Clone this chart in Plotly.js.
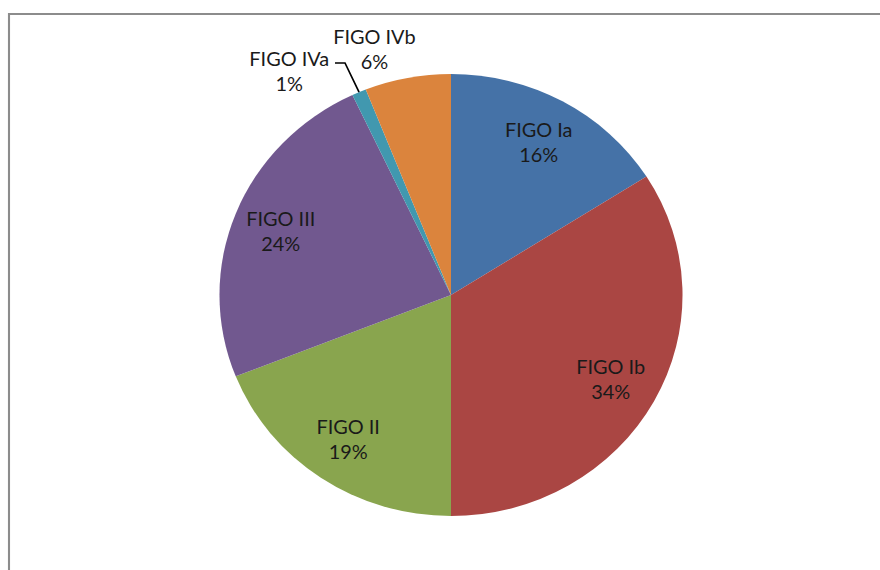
<!DOCTYPE html>
<html>
<head>
<meta charset="utf-8">
<script src="https://cdn.plot.ly/plotly-3.0.1.min.js"></script>
<style>
  html, body { margin: 0; padding: 0; background: #fff; overflow: hidden; }
  #plot { width: 840px; height: 570px; transform: scaleX(1.047619); transform-origin: 0 0; }
</style>
</head>
<body>
<div id="plot"></div>
<script>
// ---- data ----
const stages = ["FIGO Ia", "FIGO Ib", "FIGO II", "FIGO III", "FIGO IVa", "FIGO IVb"];
const shares = [16, 34, 19, 24, 1, 6];
const sliceColors = ["#4572A7", "#AA4643", "#89A54E", "#71588F", "#4198AF", "#DB843D"];

// ---- geometry (page pixels) ----
const PAGE_W = 880, PAGE_H = 570;
const CX = 451, CY = 295, RY = 221, RX = 221 * 880 / 840;
const insideR = 0.79;
const outsideLabelPos = { "FIGO IVa": [289, 71], "FIGO IVb": [375, 49] };
const px = x => x / PAGE_W;
const py = y => 1 - y / PAGE_H;

const total = shares.reduce((a, b) => a + b, 0);
const annotations = [];
const shapes = [];
let cum = 0;
stages.forEach((s, i) => {
  const mid = (cum + shares[i] / 2) / total * 2 * Math.PI;
  cum += shares[i];
  const text = s + "<br>" + Math.round(shares[i] / total * 100) + "%";
  let x, y;
  if (outsideLabelPos[s]) {
    [x, y] = outsideLabelPos[s];
  } else {
    x = CX + insideR * RX * Math.sin(mid);
    y = CY - insideR * RY * Math.cos(mid);
  }
  annotations.push({
    x: px(x), y: py(y), xref: "paper", yref: "paper",
    xanchor: "center", yanchor: "middle", align: "center",
    showarrow: false, text: text,
    font: { family: "Lato, Carlito, sans-serif", size: 19, color: "#1a1a1a" }
  });
  if (s === "FIGO IVa") {
    const ex = CX + RX * Math.sin(mid), ey = CY - RY * Math.cos(mid);
    const lx = x + 46, ly = y - 8;
    shapes.push({
      type: "path", xref: "paper", yref: "paper",
      path: `M ${px(ex)} ${py(ey)} L ${px(lx + 10)} ${py(ly)} L ${px(lx)} ${py(ly)}`,
      line: { color: "#000", width: 1.6 }
    });
  }
});

// chart frame
shapes.push({
  type: "path", xref: "paper", yref: "paper",
  path: `M ${px(9)} ${py(PAGE_H + 10)} L ${px(9)} ${py(14)} L ${px(PAGE_W + 10)} ${py(14)}`,
  line: { color: "#8c8c8c", width: 2 }
});

const dx = RY / 840, dy = RY / PAGE_H;
const trace = {
  type: "pie",
  labels: stages,
  values: shares,
  sort: false,
  direction: "clockwise",
  rotation: 0,
  textinfo: "none",
  hoverinfo: "none",
  marker: { colors: sliceColors, line: { width: 0 } },
  domain: { x: [px(CX) - dx, px(CX) + dx], y: [py(CY) - dy, py(CY) + dy] }
};

const layout = {
  width: 840, height: 570,
  margin: { l: 0, r: 0, t: 0, b: 0 },
  showlegend: false,
  paper_bgcolor: "#fff",
  annotations: annotations,
  shapes: shapes
};

Plotly.newPlot("plot", [trace], layout, { displayModeBar: false, staticPlot: true });
</script>
</body>
</html>
